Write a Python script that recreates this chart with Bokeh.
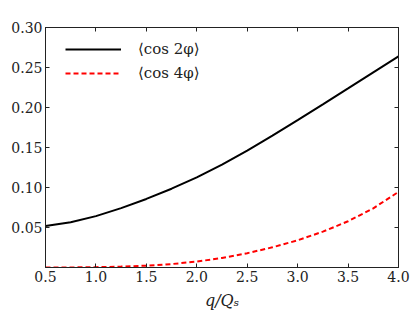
from bokeh.plotting import figure
from bokeh.models import LinearAxis, FixedTicker, Legend, LegendItem, Range1d
from bokeh.embed import file_html
from bokeh.resources import INLINE

q = [0.5, 0.75, 1.0, 1.25, 1.5, 1.75, 2.0, 2.25, 2.5, 2.75, 3.0, 3.25, 3.5, 3.75, 4.0]
cos2 = [0.052, 0.0565, 0.0642, 0.0742, 0.0857, 0.0985, 0.1127, 0.1285, 0.1460, 0.1648, 0.1843, 0.2040, 0.2239, 0.2440, 0.2640]
cos4 = [0.0, 0.0001, 0.0004, 0.0011, 0.0023, 0.0043, 0.0074, 0.0119, 0.0179, 0.0252, 0.0340, 0.0448, 0.0578, 0.0740, 0.0945]
xticks = [0.5, 1.0, 1.5, 2.0, 2.5, 3.0, 3.5, 4.0]
xtick_labels = ["0.5", "1.0", "1.5", "2.0", "2.5", "3.0", "3.5", "4.0"]
yticks = [0.05, 0.10, 0.15, 0.20, 0.25, 0.30]
ytick_labels = ["0.05", "0.10", "0.15", "0.20", "0.25", "0.30"]
labels = ["⟨cos 2φ⟩", "⟨cos 4φ⟩"]

FONT = "DejaVu Serif"

p = figure(width=416, height=333, output_backend="svg", toolbar_location=None,
           x_range=Range1d(0.5, 4.0), y_range=Range1d(0.0, 0.30),
           x_axis_location=None, y_axis_location=None,
           min_border_left=45, min_border_top=27, min_border_right=18, min_border_bottom=66)
p.grid.visible = False
p.outline_line_color = "#222222"
p.outline_line_width = 1
p.background_fill_color = "white"
p.border_fill_color = "white"

def make_axis(ticks, tick_labels, show_labels):
    ax = LinearAxis(ticker=FixedTicker(ticks=ticks))
    ax.major_tick_in = 4
    ax.major_tick_out = 0
    ax.minor_tick_line_color = None
    ax.axis_line_color = "#222222"
    ax.major_tick_line_color = "#222222"
    ax.major_label_text_font = FONT
    if show_labels:
        ax.major_label_overrides = {t: s for t, s in zip(ticks, tick_labels)}
        ax.major_label_text_font_size = "14px"
        ax.major_label_text_color = "#222222"
        ax.major_label_standoff = 3
    else:
        ax.major_label_text_color = None
        ax.major_label_text_font_size = "1px"
        ax.major_label_standoff = 0
    return ax

xb = make_axis(xticks, xtick_labels, True)
xb.axis_label = "q/Qₛ"
xb.axis_label_text_font = FONT
xb.axis_label_text_font_style = "italic"
xb.axis_label_text_font_size = "16px"
xb.axis_label_standoff = 6
xb.axis_label_text_color = "#222222"
p.add_layout(xb, "below")
p.add_layout(make_axis(yticks, ytick_labels, True), "left")
p.add_layout(make_axis(xticks, xtick_labels, False), "above")
p.add_layout(make_axis(yticks, ytick_labels, False), "right")

r1 = p.line(q, cos2, line_color="black", line_width=2)
r2 = p.line(q, cos4, line_color="red", line_width=2, line_dash="5 3")

leg = Legend(items=[LegendItem(label=labels[0], renderers=[r1]),
                    LegendItem(label=labels[1], renderers=[r2])],
             location=(20, 184), glyph_width=56, glyph_height=20, label_standoff=17,
             spacing=4, padding=0, margin=0, border_line_alpha=0, background_fill_alpha=0,
             label_text_font=FONT, label_text_font_size="15px", label_text_color="#222222")
p.add_layout(leg)

open("out.html", "w").write(file_html(p, INLINE))
